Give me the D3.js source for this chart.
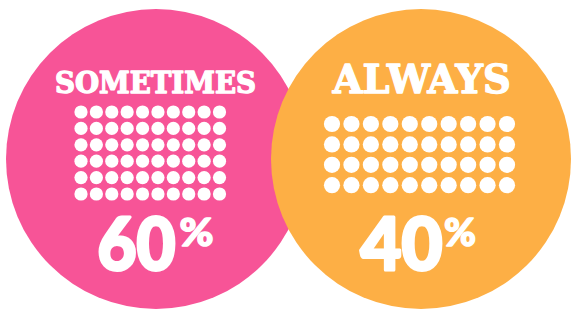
<!DOCTYPE html>
<html lang="en">
  <head>
    <meta charset="UTF-8" />
    <title>Sometimes vs Always</title>
    <script src="https://d3js.org/d3.v7.min.js"></script>
    <style>
      body { margin: 0; background: #fff; }
    </style>
  </head>
  <body>
    <svg width="571" height="309"></svg>

    <script>
      // Data
      const categories = ['SOMETIMES', 'ALWAYS'];
      const values = [60, 40];
      const colors = ['#F75497', '#FDAF45'];
      const dotsPerRow = 10;

      // Layout for each bubble (position, dot grid, text sizes)
      const layout = [
        {
          cx: 156, cy: 159, r: 150,
          grid: { x0: 81, x1: 219.5, y0: 112, rowStep: 16.4, dotR: 6.6 },
          label: { x: 155.5, y: 93, size: 29, width: 201 },
          num: { x: 97.5, y: 270, size: 72, width: 78 },
          pct: { x: 179.5, y: 245.5, size: 38, width: 34 },
        },
        {
          cx: 421, cy: 159, r: 150,
          grid: { x0: 332, x1: 507, y0: 124, rowStep: 20.4, dotR: 8.1 },
          label: { x: 421.7, y: 92.5, size: 39, width: 178 },
          num: { x: 360.5, y: 269.5, size: 72, width: 82 },
          pct: { x: 444, y: 245.5, size: 38, width: 32 },
        },
      ];

      const svg = d3.select('svg');

      const bubbles = categories.map((c, i) => ({
        name: c,
        value: values[i],
        color: colors[i],
        ...layout[i],
      }));

      const g = svg
        .selectAll('.bubble')
        .data(bubbles)
        .enter()
        .append('g')
        .attr('class', 'bubble');

      // Big circles (orange drawn after pink, so it sits on top)
      g.append('circle')
        .attr('cx', (d) => d.cx)
        .attr('cy', (d) => d.cy)
        .attr('r', (d) => d.r)
        .attr('fill', (d) => d.color);

      // Category label, stroked a little to look heavier
      g.append('text')
        .attr('x', (d) => d.label.x)
        .attr('y', (d) => d.label.y)
        .attr('text-anchor', 'middle')
        .attr('font-family', "'DejaVu Serif', serif")
        .attr('font-weight', 'bold')
        .attr('font-size', (d) => d.label.size)
        .attr('textLength', (d) => d.label.width)
        .attr('lengthAdjust', 'spacingAndGlyphs')
        .attr('fill', '#fff')
        .attr('stroke', '#fff')
        .attr('stroke-width', 1.4)
        .attr('stroke-linejoin', 'round')
        .text((d) => d.name);

      // Dot grid, one dot per percent
      g.each(function (d) {
        const rows = Math.ceil(d.value / dotsPerRow);
        const x = d3.scaleLinear().domain([0, dotsPerRow - 1]).range([d.grid.x0, d.grid.x1]);
        const y = d3
          .scaleLinear()
          .domain([0, rows - 1])
          .range([d.grid.y0, d.grid.y0 + (rows - 1) * d.grid.rowStep]);

        d3.select(this)
          .selectAll('.dot')
          .data(d3.range(d.value))
          .enter()
          .append('circle')
          .attr('class', 'dot')
          .attr('cx', (k) => x(k % dotsPerRow))
          .attr('cy', (k) => y(Math.floor(k / dotsPerRow)))
          .attr('r', d.grid.dotR)
          .attr('fill', '#fff');
      });

      // Percentage number
      g.append('text')
        .attr('x', (d) => d.num.x)
        .attr('y', (d) => d.num.y)
        .attr('font-family', 'Lato, Roboto, sans-serif')
        .attr('font-weight', 900)
        .attr('font-size', (d) => d.num.size)
        .attr('textLength', (d) => d.num.width)
        .attr('lengthAdjust', 'spacingAndGlyphs')
        .attr('fill', '#fff')
        .attr('stroke', '#fff')
        .attr('stroke-width', 3)
        .attr('stroke-linejoin', 'round')
        .text((d) => d.value);

      g.append('text')
        .attr('x', (d) => d.pct.x)
        .attr('y', (d) => d.pct.y)
        .attr('font-family', 'Lato, Roboto, sans-serif')
        .attr('font-weight', 900)
        .attr('font-size', (d) => d.pct.size)
        .attr('textLength', (d) => d.pct.width)
        .attr('lengthAdjust', 'spacingAndGlyphs')
        .attr('fill', '#fff')
        .attr('stroke', '#fff')
        .attr('stroke-width', 1.5)
        .attr('stroke-linejoin', 'round')
        .text('%');
    </script>
  </body>
</html>
